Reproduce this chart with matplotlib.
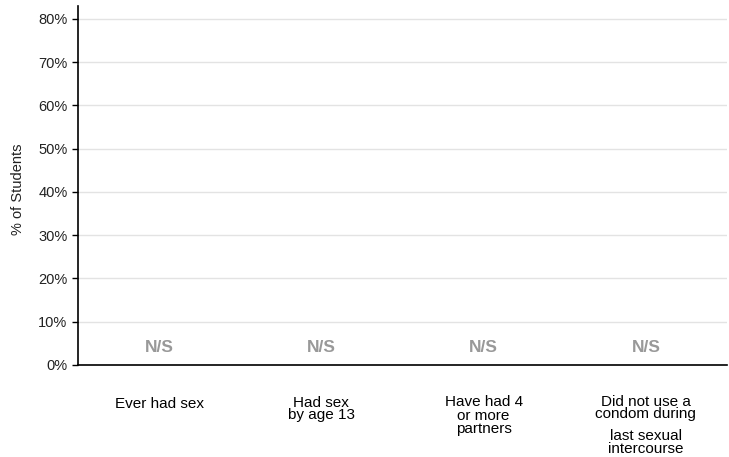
import matplotlib
matplotlib.use("Agg")
import matplotlib.pyplot as plt
from matplotlib.transforms import blended_transform_factory

# data
categories = [
    ["Ever had sex"],
    ["Had sex", "by age 13"],
    ["Have had 4", "or more", "partners"],
    ["Did not use a", "condom during", "last sexual", "intercourse"],
]
values = [None, None, None, None]  # not shown -> N/S
y_ticks = [0, 10, 20, 30, 40, 50, 60, 70, 80]
y_tick_labels = ["0%", "10%", "20%", "30%", "40%", "50%", "60%", "70%", "80%"]

# label line baselines in pixels from top of figure (layout only)
line_px = [[408], [407, 419], [406, 420, 433], [406, 418, 440, 453]]

W, H = 729, 457
plt.rcParams["font.family"] = ["Liberation Sans", "DejaVu Sans"]
fig = plt.figure(figsize=(W / 100, H / 100), dpi=100)
ax = fig.add_axes([78 / W, 1 - 365 / H, 649 / W, 359 / H])

ax.set_xlim(-0.5, 3.5)
ax.set_ylim(0, 83)
ax.set_yticks(y_ticks)
ax.set_yticklabels(y_tick_labels, fontsize=10.5, color="#222222")
ax.set_xticks([])
ax.tick_params(axis="y", length=4, width=1, pad=3.5, color="black")
ax.grid(axis="y", color="#e3e3e3", linewidth=1.0)
ax.set_axisbelow(True)
for s in ["top", "right"]:
    ax.spines[s].set_visible(False)
for s in ["left", "bottom"]:
    ax.spines[s].set_linewidth(1.2)
    ax.spines[s].set_color("black")

ax.set_ylabel("% of Students", fontsize=10.5, color="#222222")
ax.yaxis.set_label_coords(-0.081, 0.49)

for i, v in enumerate(values):
    if v is None:
        ax.annotate("N/S", xy=(i, 0), xytext=(0, 12.5), textcoords="offset points",
                    ha="center", va="center", fontsize=12.5, fontweight="bold",
                    color="#999999")
    else:
        ax.bar(i, v, width=0.6)

trans = blended_transform_factory(ax.transData, fig.transFigure)
for i, lines in enumerate(categories):
    for line, py in zip(lines, line_px[i]):
        ax.text(i, 1 - py / H, line, transform=trans, ha="center", va="baseline",
                fontsize=11, color="black")

fig.savefig("out.png", dpi=100)
